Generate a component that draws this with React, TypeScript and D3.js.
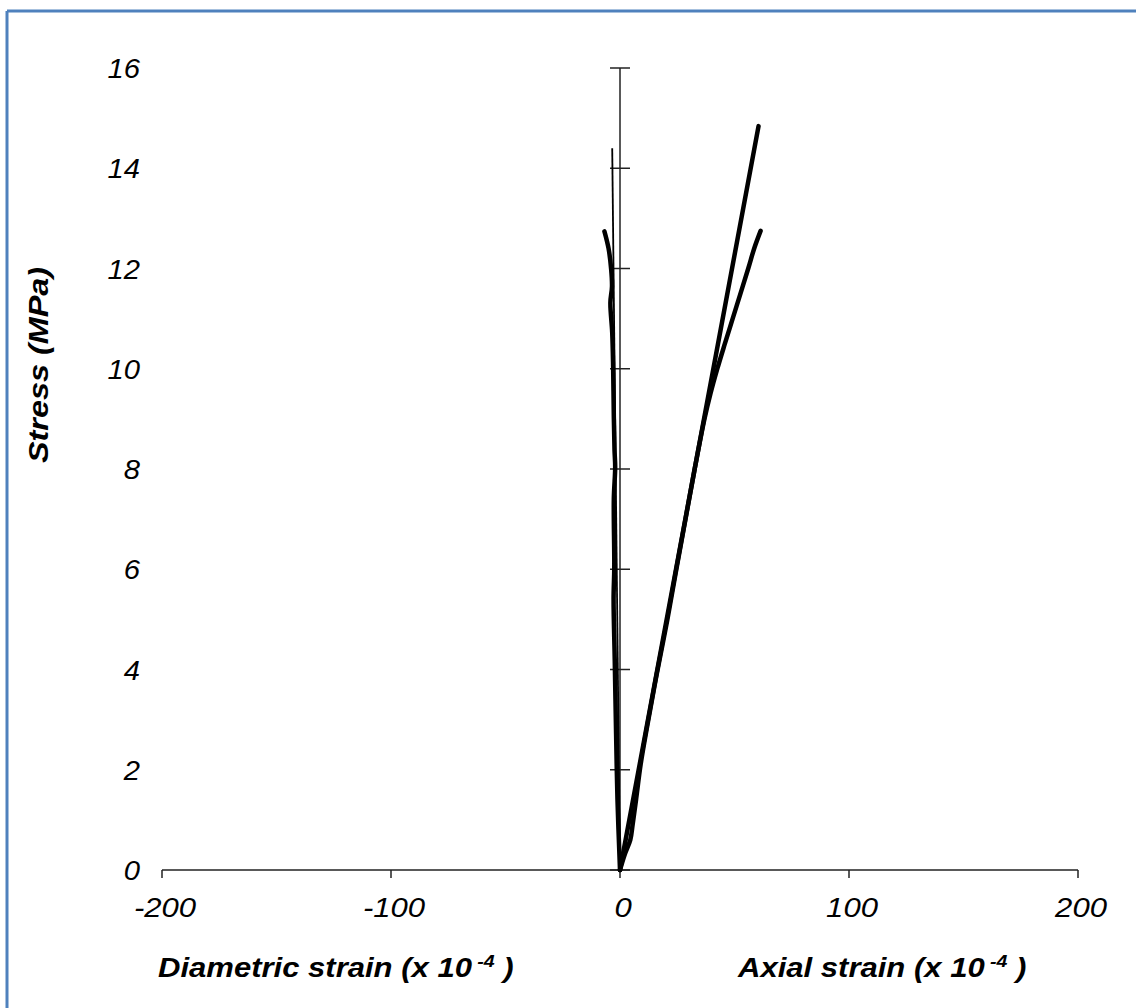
import React from "react";
import * as d3 from "d3";

const yTicks = [0, 2, 4, 6, 8, 10, 12, 14, 16];
const xTicks = [-200, -100, 0, 100, 200];

// Thin near-vertical diametric fit line
const strainA = [0, -3.4];
const stressA = [0, 14.4];

// Thick wavy diametric strain curve
const strainB = [0, -1.1, -1.7, -2.3, -2.8, -2.5, -2.7, -2.1, -2.4, -2.7, -3.0, -3.4, -4.2, -3.5, -3.85, -5.0, -6.8];
const stressB = [0, 1.4, 2.7, 4.2, 5.4, 6.05, 7.4, 8.04, 8.38, 9.04, 10.04, 10.72, 11.32, 11.64, 11.98, 12.4, 12.74];

// Straight axial fit line
const strainC = [0, 60.5];
const stressC = [0, 14.84];

// Axial strain curve
const strainD = [0, 2, 4.5, 5.5, 7, 9, 12, 16, 20.5, 24.6, 28.6, 32.6, 36.9, 39.5, 42.5, 45.8, 49.2, 52.6, 56, 58.6, 61.4];
const stressD = [0, 0.3, 0.6, 0.9, 1.4, 2.1, 2.9, 3.9, 4.95, 6, 7, 8, 9, 9.5, 10, 10.5, 11, 11.5, 12, 12.4, 12.75];

const W = 1136;
const H = 1008;

export default function App() {
  const x = d3.scaleLinear().domain([-200, 200]).range([162, 1078]);
  const y = d3.scaleLinear().domain([0, 16]).range([870, 68]);
  const x0 = x(0);

  const pts = (xs: number[], ys: number[]) => xs.map((v, i) => [v, ys[i]] as [number, number]);
  const straight = d3.line<[number, number]>().x((d) => x(d[0])).y((d) => y(d[1]));
  const smooth = d3
    .line<[number, number]>()
    .x((d) => x(d[0]))
    .y((d) => y(d[1]))
    .curve(d3.curveCatmullRom.alpha(0.5));

  const ff = "'Liberation Sans', Arial, sans-serif";
  const tickFont = { fontFamily: ff, fontStyle: "italic", fontSize: 27 } as const;
  const titleFont = { fontFamily: ff, fontStyle: "italic", fontWeight: "bold", fontSize: 27 } as const;
  const sx = 1.15;

  return (
    <div style={{ position: "absolute", left: 0, top: 0, width: W, height: H, background: "#fff" }}>
      <svg width={W} height={H} style={{ display: "block" }}>
        <rect x={0} y={0} width={W} height={H} fill="#fff" />
        {/* frame */}
        <line x1={7} y1={11} x2={W} y2={11} stroke="#4F81BD" strokeWidth={3} />
        <line x1={7} y1={11} x2={7} y2={H} stroke="#4F81BD" strokeWidth={3} />

        {/* x axis */}
        <line x1={x(-200)} y1={y(0)} x2={x(200)} y2={y(0)} stroke="#222" strokeWidth={1.5} />
        {xTicks.map((t) => (
          <line key={"xt" + t} x1={x(t)} y1={y(0)} x2={x(t)} y2={y(0) + 8} stroke="#222" strokeWidth={1.5} />
        ))}
        {xTicks.map((t) => (
          <text
            key={"xl" + t}
            transform={`translate(${x(t) + 3},917) scale(${sx},1)`}
            textAnchor="middle"
            {...tickFont}
          >
            {t}
          </text>
        ))}

        {/* y axis */}
        <line x1={x0} y1={y(16)} x2={x0} y2={y(0)} stroke="#222" strokeWidth={1.5} />
        {yTicks.map((t) => (
          <line key={"yt" + t} x1={x0 - 10} y1={y(t)} x2={x0 + 10} y2={y(t)} stroke="#222" strokeWidth={1.5} />
        ))}
        {yTicks.map((t) => (
          <text
            key={"yl" + t}
            transform={`translate(140,${y(t) + 10}) scale(1.08,1)`}
            textAnchor="end"
            {...tickFont}
          >
            {t}
          </text>
        ))}

        {/* series */}
        <path d={straight(pts(strainA, stressA)) || ""} fill="none" stroke="#000" strokeWidth={1.8} />
        <path d={smooth(pts(strainB, stressB)) || ""} fill="none" stroke="#000" strokeWidth={4.5} strokeLinecap="round" />
        <path d={straight(pts(strainC, stressC)) || ""} fill="none" stroke="#000" strokeWidth={4.5} strokeLinecap="round" />
        <path d={smooth(pts(strainD, stressD)) || ""} fill="none" stroke="#000" strokeWidth={4.5} strokeLinecap="round" />

        {/* titles */}
        <text transform="translate(48,365) rotate(-90) scale(1.2,1)" textAnchor="middle" {...titleFont}>
          Stress (MPa)
        </text>
        <text transform={`translate(158,977) scale(${sx},1)`} {...titleFont}>
          Diametric strain (x 10
          <tspan fontSize={17} dy={-10}> -4</tspan>
          <tspan dy={10}> )</tspan>
        </text>
        <text transform={`translate(738,977) scale(${sx},1)`} {...titleFont}>
          Axial strain (x 10
          <tspan fontSize={17} dy={-10}> -4</tspan>
          <tspan dy={10}> )</tspan>
        </text>
      </svg>
    </div>
  );
}
